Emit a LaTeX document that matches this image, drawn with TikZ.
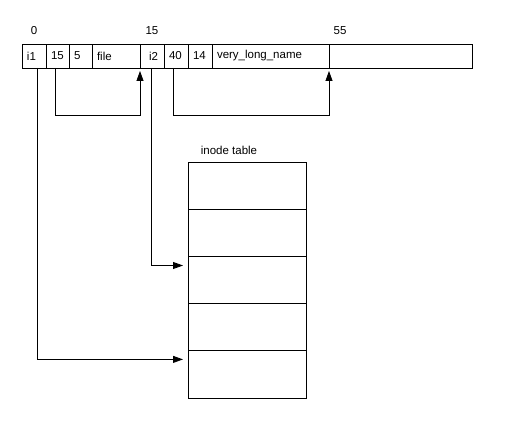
\documentclass[tikz,border=0pt]{standalone}
\usepackage{fontspec}
\setmainfont{Liberation Sans}
\usetikzlibrary{arrows.meta,calc}
\tikzset{
  cell/.style={draw, anchor=north west, minimum height=24pt, inner xsep=5pt, inner ysep=0pt, outer sep=0pt, align=left, text width=#1},
  row/.style={draw, anchor=north west, minimum width=118pt, minimum height=47.2pt, inner sep=0pt, outer sep=0pt},
  lbl/.style={inner sep=0pt},
  arr/.style={-{Triangle[length=10pt,width=7pt]}, shorten >=3pt}
}
\begin{document}
\begin{tikzpicture}[x=1pt,y=-1pt,font=\fontsize{11.5}{13}\selectfont,line width=0.8pt]
\useasboundingbox (0,0) rectangle (506,422);
% top row of cells
\node[cell=14pt] (c1) at (22,44) {i1};
\node[cell=13pt] (c2) at (c1.north east) {15};
\node[cell=13pt] (c3) at (c2.north east) {5};
\node[cell=38pt] (c4) at (c3.north east) {file};
\node[cell=14pt] (c5) at (c4.north east) {\hspace*{4pt}i2};
\node[cell=14pt] (c6) at (c5.north east) {40};
\node[cell=14pt] (c7) at (c6.north east) {14};
\node[cell=107pt] (c8) at (c7.north east) {very\_long\_name};
\node[cell=133pt] (c9) at (c8.north east) {};
% offsets
\node[lbl] (o0) at (34,31) {0};
\node[lbl] (o15) at (152,31) {15};
\node[lbl] (o55) at (340,31) {55};
% inode table
\node[lbl] (title) at (229,150) {inode table};
\node[row] (r1) at (188,162) {};
\node[row] (r2) at (r1.south west) {};
\node[row] (r3) at (r2.south west) {};
\node[row] (r4) at (r3.south west) {};
\node[row] (r5) at (r4.south west) {};
% connectors
\draw[arr] ([xshift=9pt]c2.south west) -- ++(0,47) -| (c4.south east);
\draw[arr] ([xshift=9pt]c6.south west) -- ++(0,47) -| (c8.south east);
\draw[arr, shorten >=5pt] ([xshift=11pt]c5.south west) |- ([yshift=14.5pt]r3.west);
\draw[arr, shorten >=5pt] ([xshift=15pt]c1.south west) |- ([yshift=15pt]r5.west);
\end{tikzpicture}
\end{document}
